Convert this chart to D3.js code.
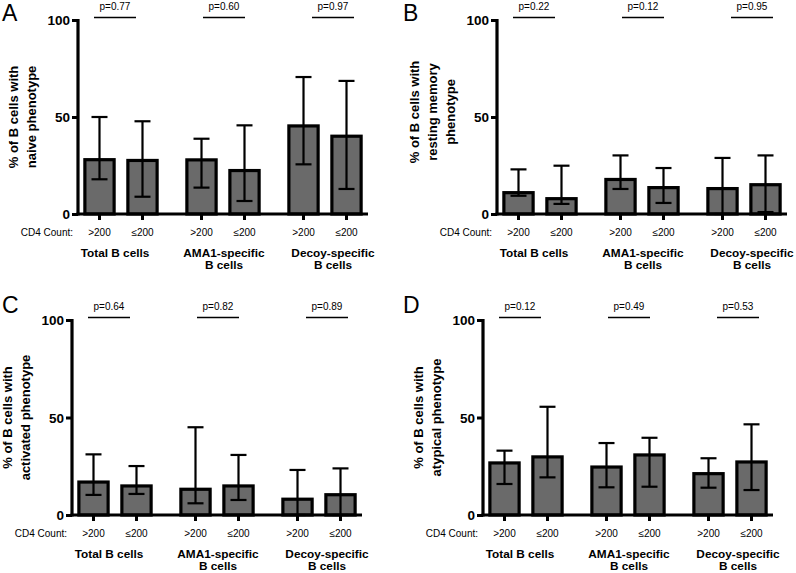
<!DOCTYPE html>
<html>
<head>
<meta charset="utf-8">
<script src="https://cdn.jsdelivr.net/npm/d3@7"></script>
<style>
  html, body { margin: 0; padding: 0; background: #fff; }
  svg { display: block; font-family: "Liberation Sans", Arial, Helvetica, sans-serif; }
</style>
</head>
<body>
<svg id="chart" width="796" height="573"></svg>
<script>
// ---------- data ----------
const groupLines = [["Total B cells"], ["AMA1-specific", "B cells"], ["Decoy-specific", "B cells"]];
const groups = ["Total B cells", "AMA1-specific B cells", "Decoy-specific B cells"];
const cd4Levels = [">200", "≤200"];
const yTicks = [0, 50, 100];
const panelLetters = ["A", "B", "C", "D"];
const yTitles = [
  ["% of B cells with", "naive phenotype"],
  ["% of B cells with", "resting memory", "phenotype"],
  ["% of B cells with", "activated phenotype"],
  ["% of B cells with", "atypical phenotype"]
];
const pValues = [
  ["p=0.77", "p=0.60", "p=0.97"],
  ["p=0.22", "p=0.12", "p=0.95"],
  ["p=0.64", "p=0.82", "p=0.89"],
  ["p=0.12", "p=0.49", "p=0.53"]
];
// order: Total >200, Total ≤200, AMA1 >200, AMA1 ≤200, Decoy >200, Decoy ≤200
const meanA = [28.0, 27.6, 27.9, 22.4, 45.4, 40.1];
const lowA  = [17.9, 8.9, 13.6, 6.7, 25.6, 12.9];
const highA = [50.0, 47.8, 38.8, 45.7, 70.6, 68.6];
const meanB = [11.0, 7.9, 17.8, 13.6, 13.1, 15.1];
const lowB  = [9.4, 5.2, 12.9, 5.7, 0, 1.0];
const highB = [23.0, 24.9, 30.2, 23.7, 28.9, 30.2];
const meanC = [16.9, 14.9, 13.2, 14.9, 8.1, 10.4];
const lowC  = [10.3, 10.8, 6.0, 7.7, 0, 0];
const highC = [31.1, 25.1, 45.0, 30.8, 23.1, 23.9];
const meanD = [26.7, 29.8, 24.6, 30.8, 21.2, 27.2];
const lowD  = [15.9, 19.3, 14.2, 14.5, 14.0, 12.8];
const highD = [33.0, 55.5, 36.9, 39.6, 29.1, 46.5];

const means = [meanA, meanB, meanC, meanD];
const lows = [lowA, lowB, lowC, lowD];
const highs = [highA, highB, highC, highD];

// ---------- layout ----------
const panels = [
  { axisX: 78,  y0: 214, y100: 20,  letterX: 2,   letterY: 21,  titleDy: 0 },
  { axisX: 497, y0: 214, y100: 20,  letterX: 403, letterY: 21,  titleDy: -5 },
  { axisX: 72,  y0: 515, y100: 320, letterX: 2,   letterY: 313, titleDy: 0 },
  { axisX: 483, y0: 515, y100: 320, letterX: 403, letterY: 313, titleDy: 0 }
];

const svg = d3.select("#chart");
const FONT = "'Liberation Sans', Arial, Helvetica, sans-serif";

panels.forEach((p, pi) => {
  const g = svg.append("g");
  const axisLen = 290;

  const y = d3.scaleLinear().domain([0, 100]).range([p.y0, p.y100]);
  const xGroup = d3.scaleBand().domain(groups).range([p.axisX, p.axisX + axisLen])
    .paddingInner(0.157).paddingOuter(0);
  const xInner = d3.scaleBand().domain(cd4Levels).range([0, xGroup.bandwidth()])
    .paddingInner(0.25).paddingOuter(0.125);
  const xLabel = d3.scalePoint().domain(groups).range([p.axisX + 37, p.axisX + 255]);

  const rows = [];
  groups.forEach((gr, gi) => cd4Levels.forEach((lv, li) => {
    const k = gi * 2 + li;
    rows.push({ group: gr, level: lv, mean: means[pi][k], low: lows[pi][k], high: highs[pi][k] });
  }));
  const cx = d => xGroup(d.group) + xInner(d.level) + xInner.bandwidth() / 2;
  const bw = xInner.bandwidth();

  // bars
  g.selectAll("rect.bar").data(rows).enter().append("rect")
    .attr("class", "bar")
    .attr("x", d => xGroup(d.group) + xInner(d.level) + 1.5)
    .attr("width", bw - 3)
    .attr("y", d => y(d.mean))
    .attr("height", d => y(0) - y(d.mean))
    .attr("fill", "#6a6a6a")
    .attr("stroke", "#000")
    .attr("stroke-width", 3.2);

  // error bars
  const capW = 16;
  const eb = g.selectAll("g.err").data(rows).enter().append("g").attr("class", "err")
    .attr("stroke", "#000").attr("stroke-width", 2.2);
  eb.append("line").attr("x1", cx).attr("x2", cx).attr("y1", d => y(d.low)).attr("y2", d => y(d.high));
  eb.append("line").attr("x1", d => cx(d) - capW / 2).attr("x2", d => cx(d) + capW / 2)
    .attr("y1", d => y(d.high)).attr("y2", d => y(d.high));
  eb.append("line").attr("x1", d => cx(d) - capW / 2).attr("x2", d => cx(d) + capW / 2)
    .attr("y1", d => y(d.low)).attr("y2", d => y(d.low));

  // y axis
  const yAxis = d3.axisLeft(y).tickValues(yTicks).tickSize(6).tickPadding(2).tickFormat(d3.format("d"));
  const ya = g.append("g").attr("transform", `translate(${p.axisX},0)`).call(yAxis);
  ya.select(".domain").remove();
  ya.selectAll(".tick line").attr("stroke", "#000").attr("stroke-width", 3);
  ya.selectAll(".tick text").attr("font-family", FONT).attr("font-size", 13.5).attr("font-weight", "bold")
    .attr("fill", "#000").attr("dy", "0.36em");
  g.append("line").attr("x1", p.axisX).attr("x2", p.axisX).attr("y1", y(100) - 1).attr("y2", y(0) + 1.5)
    .attr("stroke", "#000").attr("stroke-width", 3.2);

  // x axis baseline
  g.append("line").attr("x1", p.axisX - 1.5).attr("x2", p.axisX + axisLen).attr("y1", y(0)).attr("y2", y(0))
    .attr("stroke", "#000").attr("stroke-width", 3.2);
  // x ticks
  g.selectAll("line.xt").data(rows).enter().append("line").attr("class", "xt")
    .attr("x1", cx).attr("x2", cx).attr("y1", y(0)).attr("y2", y(0) + 6)
    .attr("stroke", "#000").attr("stroke-width", 3);

  // CD4 labels
  g.append("text").attr("x", p.axisX - 5).attr("y", y(0) + 21.5).attr("text-anchor", "end")
    .attr("font-family", FONT).attr("font-size", 10).text("CD4 Count:");
  g.selectAll("text.lv").data(rows).enter().append("text").attr("class", "lv")
    .attr("x", cx).attr("y", y(0) + 21.5).attr("text-anchor", "middle")
    .attr("font-family", FONT).attr("font-size", 10).text(d => d.level);

  // group labels
  groups.forEach((gr, gi) => {
    const t = g.append("text").attr("x", xLabel(gr)).attr("y", y(0) + 42.5)
      .attr("text-anchor", "middle").attr("font-family", FONT).attr("font-size", 11.8)
      .attr("font-weight", "bold");
    groupLines[gi].forEach((ln, li) => {
      t.append("tspan").attr("x", xLabel(gr)).attr("dy", li === 0 ? 0 : 12.5).text(ln);
    });
  });

  // p-value annotations
  groups.forEach((gr, gi) => {
    const lx = xLabel(gr);
    g.append("line").attr("x1", lx - 21).attr("x2", lx + 21)
      .attr("y1", y(100) - 2.5).attr("y2", y(100) - 2.5)
      .attr("stroke", "#000").attr("stroke-width", 1.6);
    g.append("text").attr("x", lx).attr("y", y(100) - 10).attr("text-anchor", "middle")
      .attr("font-family", FONT).attr("font-size", 10).text(pValues[pi][gi]);
  });

  // y title
  const nL = yTitles[pi].length;
  const yMid = (y(0) + y(100)) / 2 + p.titleDy;
  yTitles[pi].forEach((ln, li) => {
    const xx = p.axisX - 47 - (nL - 1 - li) * 18;
    g.append("text").attr("transform", `translate(${xx},${yMid}) rotate(-90)`)
      .attr("text-anchor", "middle").attr("dy", "0.35em")
      .attr("font-family", FONT).attr("font-size", 13).attr("font-weight", "bold").text(ln);
  });

  // panel letter
  g.append("text").attr("x", p.letterX).attr("y", p.letterY)
    .attr("font-family", FONT).attr("font-size", 23).text(panelLetters[pi]);
});
</script>
</body>
</html>
